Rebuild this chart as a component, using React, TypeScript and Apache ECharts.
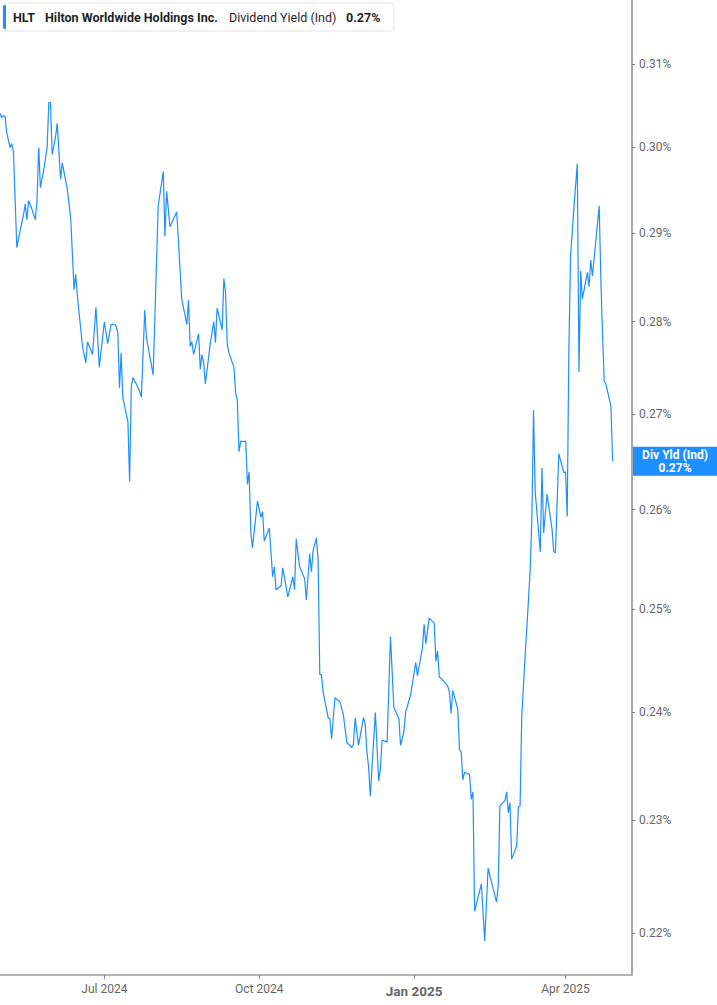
import React, { useEffect, useRef } from 'react';
import * as echarts from 'echarts';

const dates = [
  '2024-04-30','2024-05-01','2024-05-02','2024-05-03','2024-05-04','2024-05-06','2024-05-07','2024-05-08','2024-05-10','2024-05-12',
  '2024-05-14','2024-05-15','2024-05-16','2024-05-17','2024-05-19','2024-05-21','2024-05-22','2024-05-23','2024-05-24','2024-05-26',
  '2024-05-28','2024-05-29','2024-05-30','2024-05-31','2024-06-02','2024-06-03','2024-06-05','2024-06-06','2024-06-09','2024-06-11',
  '2024-06-13','2024-06-14','2024-06-15','2024-06-18','2024-06-20','2024-06-21','2024-06-24','2024-06-26','2024-06-28','2024-07-01',
  '2024-07-03','2024-07-05','2024-07-07','2024-07-08','2024-07-09','2024-07-10','2024-07-11','2024-07-12','2024-07-15','2024-07-16',
  '2024-07-17','2024-07-18','2024-07-20','2024-07-22','2024-07-23','2024-07-25','2024-07-26','2024-07-30','2024-08-02','2024-08-05',
  '2024-08-06','2024-08-07','2024-08-09','2024-08-13','2024-08-16','2024-08-19','2024-08-20','2024-08-21','2024-08-22','2024-08-23',
  '2024-08-26','2024-08-27','2024-08-28','2024-08-29','2024-08-30','2024-09-02','2024-09-04','2024-09-05','2024-09-06','2024-09-09',
  '2024-09-10','2024-09-11','2024-09-12','2024-09-13','2024-09-16','2024-09-17','2024-09-18','2024-09-19','2024-09-20','2024-09-23',
  '2024-09-24','2024-09-25','2024-09-26','2024-09-27','2024-09-30','2024-10-02','2024-10-03','2024-10-04','2024-10-07','2024-10-09',
  '2024-10-10','2024-10-11','2024-10-14','2024-10-15','2024-10-18','2024-10-21','2024-10-22','2024-10-23','2024-10-25','2024-10-28',
  '2024-10-29','2024-10-31','2024-11-01','2024-11-02','2024-11-04','2024-11-05','2024-11-06','2024-11-07','2024-11-08','2024-11-11',
  '2024-11-12','2024-11-13','2024-11-15','2024-11-18','2024-11-20','2024-11-22','2024-11-25','2024-11-26','2024-11-27','2024-11-29',
  '2024-12-02','2024-12-03','2024-12-04','2024-12-05','2024-12-06','2024-12-09','2024-12-11','2024-12-12','2024-12-13','2024-12-16',
  '2024-12-18','2024-12-20','2024-12-23','2024-12-24','2024-12-26','2024-12-27','2024-12-30','2025-01-02','2025-01-03','2025-01-06',
  '2025-01-07','2025-01-08','2025-01-10','2025-01-13','2025-01-14','2025-01-15','2025-01-16','2025-01-18','2025-01-21','2025-01-22',
  '2025-01-23','2025-01-24','2025-01-27','2025-01-28','2025-01-29','2025-01-30','2025-01-31','2025-02-03','2025-02-04','2025-02-05',
  '2025-02-06','2025-02-10','2025-02-12','2025-02-14','2025-02-19','2025-02-20','2025-02-21','2025-02-24','2025-02-25','2025-02-26',
  '2025-02-27','2025-02-28','2025-03-03','2025-03-04','2025-03-05','2025-03-06','2025-03-08','2025-03-10','2025-03-11','2025-03-12',
  '2025-03-13','2025-03-14','2025-03-17','2025-03-18','2025-03-19','2025-03-21','2025-03-24','2025-03-25','2025-03-26','2025-03-28',
  '2025-03-31','2025-04-01','2025-04-02','2025-04-03','2025-04-04','2025-04-06','2025-04-08','2025-04-09','2025-04-10','2025-04-11',
  '2025-04-14','2025-04-15','2025-04-16','2025-04-17','2025-04-21','2025-04-22','2025-04-23','2025-04-24','2025-04-25','2025-04-28','2025-04-29',
];

// Dividend yield (Ind), in percent
const yields = [
  0.3040,0.3035,0.3037,0.3036,0.3017,0.2999,0.3004,0.2994,0.2883,0.2903,
  0.2921,0.2933,0.2915,0.2937,0.2927,0.2915,0.2938,0.2999,0.2952,0.2973,
  0.2999,0.3053,0.3053,0.2991,0.3012,0.3028,0.2962,0.2981,0.2950,0.2917,
  0.2836,0.2853,0.2828,0.2773,0.2755,0.2778,0.2764,0.2816,0.2750,0.2800,
  0.2776,0.2797,0.2797,0.2795,0.2788,0.2728,0.2766,0.2717,0.2692,0.2629,
  0.2729,0.2739,0.2732,0.2724,0.2718,0.2813,0.2783,0.2742,0.2931,0.2971,
  0.2896,0.2948,0.2907,0.2924,0.2825,0.2797,0.2824,0.2773,0.2778,0.2764,
  0.2787,0.2748,0.2764,0.2755,0.2732,0.2777,0.2800,0.2777,0.2815,0.2791,
  0.2848,0.2833,0.2775,0.2766,0.2750,0.2723,0.2715,0.2660,0.2671,0.2671,
  0.2626,0.2639,0.2578,0.2561,0.2609,0.2592,0.2598,0.2568,0.2581,0.2532,
  0.2542,0.2519,0.2523,0.2541,0.2512,0.2532,0.2519,0.2570,0.2542,0.2530,
  0.2509,0.2555,0.2537,0.2558,0.2571,0.2549,0.2436,0.2436,0.2419,0.2395,
  0.2394,0.2375,0.2414,0.2410,0.2398,0.2372,0.2367,0.2370,0.2395,0.2369,
  0.2395,0.2389,0.2363,0.2349,0.2322,0.2400,0.2336,0.2347,0.2374,0.2372,
  0.2473,0.2405,0.2394,0.2369,0.2382,0.2400,0.2417,0.2448,0.2435,0.2462,
  0.2485,0.2466,0.2491,0.2486,0.2449,0.2459,0.2434,0.2431,0.2425,0.2419,
  0.2399,0.2421,0.2403,0.2365,0.2363,0.2337,0.2344,0.2342,0.2319,0.2326,
  0.2219,0.2243,0.2193,0.2257,0.2227,0.2241,0.2313,0.2318,0.2326,0.2307,
  0.2316,0.2265,0.2277,0.2312,0.2313,0.2396,0.2454,0.2509,0.2539,0.2590,
  0.2704,0.2618,0.2557,0.2643,0.2576,0.2616,0.2580,0.2557,0.2556,0.2658,
  0.2638,0.2639,0.2593,0.2770,0.2873,0.2929,0.2980,0.2745,0.2857,0.2825,
  0.2855,0.2839,0.2869,0.2851,0.2931,0.2847,0.2786,0.2735,0.2732,0.2708,0.2650,
];

const yTickValues = [0.22, 0.23, 0.24, 0.25, 0.26, 0.27, 0.28, 0.29, 0.30, 0.31];
const xTickDates = ['2024-07-01', '2024-10-01', '2025-01-01', '2025-04-01'];
const xTickLabels = ['Jul 2024', 'Oct 2024', 'Jan 2025', 'Apr 2025'];

const X_MIN = '2024-04-30';
const X_MAX = '2025-05-10';
const Y_MIN = 0.21638;
const Y_MAX = 0.3179;

const TICKER = 'HLT';
const COMPANY = 'Hilton Worldwide Holdings Inc.';
const METRIC = 'Dividend Yield (Ind)';
const METRIC_SHORT = 'Div Yld (Ind)';
const CURRENT = '0.27%';

const BLUE = '#1e8fff';
const FONT = 'Roboto, "Noto Sans", sans-serif';

const ts = (s: string) => {
  const [y, m, d] = s.split('-').map(Number);
  return Date.UTC(y, m - 1, d);
};

export default function App() {
  const ref = useRef<HTMLDivElement>(null);

  useEffect(() => {
    if (!ref.current) return;
    const chart = echarts.init(ref.current, undefined, { renderer: 'svg' });
    const xTicks = xTickDates.map(ts);
    const data = dates.map((d, i) => [ts(d), Math.log(yields[i])]);

    chart.setOption({
      animation: false,
      backgroundColor: '#fff',
      grid: { left: 0, right: 85, top: 0, bottom: 30, containLabel: false },
      xAxis: {
        type: 'value',
        min: ts(X_MIN),
        max: ts(X_MAX) + 12 * 3600 * 1000,
        axisLine: { show: true, lineStyle: { color: '#b3b3b3', width: 2 } },
        axisTick: { show: true, length: 4, lineStyle: { color: '#888', width: 1 }, customValues: xTicks },
        axisLabel: {
          customValues: xTicks,
          color: '#666',
          fontSize: 12,
          fontFamily: FONT,
          margin: 8,
          formatter: (v: number) => {
            let i = -1;
            xTicks.forEach((t, k) => { if (Math.abs(t - v) < 3600000) i = k; });
            const lbl = i >= 0 ? xTickLabels[i] : '';
            return new Date(v).getUTCMonth() === 0 ? '{b|' + lbl + '}' : lbl;
          },
          rich: {
            b: { fontWeight: 'bold', fontSize: 13.5, color: '#666', fontFamily: FONT, padding: [1, 0, 0, 0] },
          },
        },
        splitLine: { show: false },
      },
      yAxis: {
        type: 'value',
        position: 'right',
        min: Math.log(Y_MIN),
        max: Math.log(Y_MAX),
        axisLine: { show: true, lineStyle: { color: '#a8a8a8', width: 2 } },
        axisTick: { show: true, length: 3, lineStyle: { color: '#777', width: 1 }, customValues: yTickValues.map(Math.log) },
        axisLabel: {
          customValues: yTickValues.map(Math.log),
          color: '#666',
          fontSize: 12,
          fontFamily: FONT,
          margin: 7,
          formatter: (v: number) => Math.exp(v).toFixed(2) + '%',
        },
        splitLine: { show: false },
      },
      series: [
        {
          type: 'line',
          data,
          showSymbol: false,
          symbol: 'none',
          lineStyle: { color: BLUE, width: 1.2 },
          clip: true,
        },
      ],
    });

    const last = data[data.length - 1];
    const p = chart.convertToPixel({ seriesIndex: 0 }, last) as number[];
    const boxY = (p && isFinite(p[1]) ? p[1] : 462) - 14.5;

    chart.setOption({
      graphic: [
        {
          type: 'group',
          x: 3,
          y: 3,
          children: [
            { type: 'rect', shape: { x: 0, y: 0, width: 391, height: 28, r: 3 }, style: { fill: '#fff', stroke: '#e2e2e2', lineWidth: 1 } },
            { type: 'rect', shape: { x: 0, y: 2, width: 3, height: 24, r: [2, 0, 0, 2] }, style: { fill: BLUE } },
            { type: 'text', x: 10, y: 14, style: { text: TICKER, font: 'bold 12.5px ' + FONT, fill: '#1f1f1f', verticalAlign: 'middle' } },
            { type: 'text', x: 42, y: 14, style: { text: COMPANY, font: 'bold 12.5px ' + FONT, fill: '#1f1f1f', verticalAlign: 'middle' } },
            { type: 'text', x: 226, y: 14, style: { text: METRIC, font: '12.5px ' + FONT, fill: '#1f1f1f', verticalAlign: 'middle' } },
            { type: 'text', x: 343, y: 14, style: { text: CURRENT, font: 'bold 12.5px ' + FONT, fill: '#1f1f1f', verticalAlign: 'middle' } },
          ],
        },
        {
          type: 'group',
          x: 632,
          y: boxY,
          children: [
            { type: 'rect', shape: { x: 0, y: 0, width: 85, height: 29 }, style: { fill: BLUE } },
            { type: 'text', x: 43, y: 8, style: { text: METRIC_SHORT, font: 'bold 12px ' + FONT, fill: '#fff', align: 'center', verticalAlign: 'middle' } },
            { type: 'text', x: 43, y: 21, style: { text: CURRENT, font: 'bold 12px ' + FONT, fill: '#fff', align: 'center', verticalAlign: 'middle' } },
          ],
        },
      ],
    });

    return () => chart.dispose();
  }, []);

  return (
    <div
      ref={ref}
      style={{ position: 'fixed', left: 0, top: 0, width: 717, height: 1005, background: '#fff' }}
    />
  );
}
